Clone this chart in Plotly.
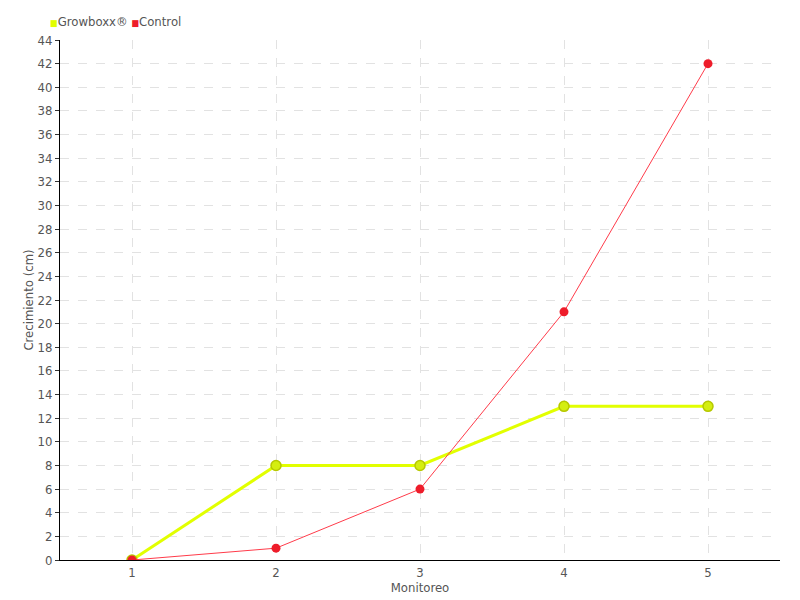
import plotly.graph_objects as go

monitoreo = ["1", "2", "3", "4", "5"]
growboxx = [0, 8, 8, 13, 13]
control = [0, 1, 6, 21, 42]

FONT = "DejaVu Sans Condensed, Roboto, sans-serif"
YELLOW = "#e2ff00"
RED = "#ee1c2a"

fig = go.Figure()

fig.add_trace(go.Scatter(
    x=monitoreo, y=growboxx, mode="lines+markers", name="Growboxx®",
    line={"color": YELLOW, "width": 3},
    marker={"color": "#d4ee10", "size": 10, "line": {"color": "#b6c800", "width": 1.5}},
))
fig.add_trace(go.Scatter(
    x=monitoreo, y=control, mode="lines+markers", name="Control",
    line={"color": "#ff3b4a", "width": 1},
    marker={"color": RED, "size": 9},
))

# compact legend with square swatches, drawn as text
legend_text = (f"<span style='color:{YELLOW};font-size:9px'>■</span>Growboxx® "
               f"<span style='color:{RED};font-size:9px'>■</span>Control")
fig.add_annotation(text=legend_text, xref="paper", yref="paper", x=0, y=1.0,
                   xshift=-12, yshift=19, xanchor="left", yanchor="middle", showarrow=False,
                   font={"size": 13, "color": "#555555"})

# page body adds ~8px offset, margins compensate for it
fig.update_layout(
    width=800, height=600,
    margin={"l": 52, "r": 28, "t": 32, "b": 48, "autoexpand": False},
    plot_bgcolor="white", paper_bgcolor="white",
    showlegend=False,
    font={"family": FONT, "size": 13, "color": "#555555"},
    xaxis={
        "type": "category", "range": [-0.5, 4.5],
        "showline": True, "linecolor": "black", "linewidth": 1,
        "showgrid": True, "gridcolor": "#e2e2e2", "griddash": "dash",
        "ticks": "", "ticklabelstandoff": 0,
        "title": {"text": "Monitoreo", "standoff": 0, "font": {"size": 13}},
        "zeroline": False,
    },
    yaxis={
        "range": [0, 44], "dtick": 2,
        "showline": True, "linecolor": "black", "linewidth": 1,
        "showgrid": True, "gridcolor": "#e2e2e2", "griddash": "dash",
        "ticks": "outside", "ticklen": 4, "tickcolor": "#333",
        "title": {"text": "Crecimiento (cm)", "standoff": 0, "font": {"size": 13}},
        "zeroline": False,
    },
)

fig.write_html("out.html")
